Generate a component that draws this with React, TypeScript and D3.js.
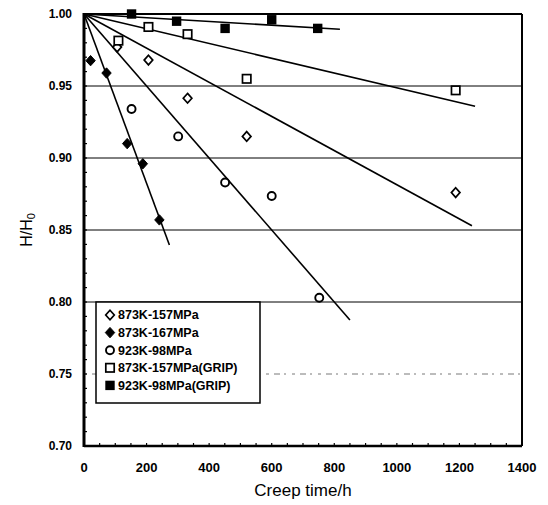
import React from "react";
import * as d3 from "d3";

// Creep time (h) and H/H0 readings for each test series
const diamondOpenT = [106, 206, 331, 520, 1188];
const diamondOpenH = [0.977, 0.968, 0.9415, 0.915, 0.876];

const diamondFilledT = [21, 72, 138, 188, 241];
const diamondFilledH = [0.9676, 0.959, 0.91, 0.896, 0.857];

const circleOpenT = [152, 301, 451, 600, 752];
const circleOpenH = [0.934, 0.915, 0.883, 0.8736, 0.803];

const squareOpenT = [110, 206, 331, 520, 1188];
const squareOpenH = [0.9815, 0.991, 0.986, 0.955, 0.947];

const squareFilledT = [152, 296, 451, 600, 747];
const squareFilledH = [1.0, 0.995, 0.99, 0.996, 0.99];

// Fitted straight lines, each starting at (0, 1.00)
const fitEndT = [1240, 273, 850, 1250, 818];
const fitEndH = [0.853, 0.8396, 0.7875, 0.936, 0.9894];

const legendLabels = [
  "873K-157MPa",
  "873K-167MPa",
  "923K-98MPa",
  "873K-157MPa(GRIP)",
  "923K-98MPa(GRIP)",
];
const markerKinds = ["diamondOpen", "diamondFilled", "circleOpen", "squareOpen", "squareFilled"];

const xTicks = [0, 200, 400, 600, 800, 1000, 1200, 1400];
const yTicks = [0.7, 0.75, 0.8, 0.85, 0.9, 0.95, 1.0];
const solidGrid = [0.8, 0.85, 0.9, 0.95];

const W = 548;
const H = 505;
const left = 84;
const right = 522;
const top = 14;
const bottom = 446;

const x = d3.scaleLinear().domain([0, 1400]).range([left, right]);
const y = d3.scaleLinear().domain([0.7, 1.0]).range([bottom, top]);

const font = "Arial, 'Liberation Sans', Helvetica, sans-serif";

function Marker({ kind, cx, cy }: { kind: string; cx: number; cy: number }) {
  switch (kind) {
    case "diamondOpen":
      return (
        <path
          d={`M${cx},${cy - 4.8}L${cx + 4.3},${cy}L${cx},${cy + 4.8}L${cx - 4.3},${cy}Z`}
          fill="#fff"
          stroke="#000"
          strokeWidth={1.7}
        />
      );
    case "diamondFilled":
      return (
        <path
          d={`M${cx},${cy - 5.2}L${cx + 4.7},${cy}L${cx},${cy + 5.2}L${cx - 4.7},${cy}Z`}
          fill="#000"
          stroke="#000"
          strokeWidth={1}
        />
      );
    case "circleOpen":
      return <circle cx={cx} cy={cy} r={4} fill="#fff" stroke="#000" strokeWidth={1.9} />;
    case "squareOpen":
      return (
        <rect x={cx - 4.2} y={cy - 4.2} width={8.4} height={8.4} fill="#fff" stroke="#000" strokeWidth={1.7} />
      );
    default:
      return <rect x={cx - 4.7} y={cy - 4.7} width={9.4} height={9.4} fill="#000" />;
  }
}

export default function App() {
  const series = [
    { kind: "diamondOpen", t: diamondOpenT, h: diamondOpenH },
    { kind: "diamondFilled", t: diamondFilledT, h: diamondFilledH },
    { kind: "circleOpen", t: circleOpenT, h: circleOpenH },
    { kind: "squareOpen", t: squareOpenT, h: squareOpenH },
    { kind: "squareFilled", t: squareFilledT, h: squareFilledH },
  ];

  const lineGen = d3
    .line<[number, number]>()
    .x((d) => x(d[0]))
    .y((d) => y(d[1]));

  const minorX = d3.range(0, 1401, 50);
  const minorY = d3.range(70, 101, 1).map((v) => v / 100);

  const legX = 96;
  const legY = 302;
  const legW = 164;
  const legH = 101;
  const rowH = 17.6;

  return (
    <svg width={W} height={H} style={{ position: "absolute", left: 0, top: 0, background: "#fff" }}>
      <rect width={W} height={H} fill="#fff" />

      {/* horizontal grid */}
      {solidGrid.map((v) => (
        <line key={v} x1={left} x2={right} y1={y(v)} y2={y(v)} stroke="#000" strokeWidth={1} />
      ))}
      <line
        x1={left}
        x2={right}
        y1={y(0.75)}
        y2={y(0.75)}
        stroke="#555"
        strokeWidth={0.8}
        strokeDasharray="3 5 6 4 2 6"
      />

      {/* fitted lines */}
      {fitEndT.map((t, i) => (
        <path
          key={i}
          d={lineGen([
            [0, 1.0],
            [t, fitEndH[i]],
          ]) as string}
          fill="none"
          stroke="#000"
          strokeWidth={1.6}
        />
      ))}

      {/* data markers */}
      {series.map((s) =>
        s.t.map((t, i) => <Marker key={s.kind + i} kind={s.kind} cx={x(t)} cy={y(s.h[i])} />)
      )}

      {/* minor ticks */}
      {minorX.map((v) => (
        <line key={"mx" + v} x1={x(v)} x2={x(v)} y1={bottom} y2={bottom - 3} stroke="#000" strokeWidth={1.2} />
      ))}
      {minorY.map((v) => (
        <line key={"my" + v} x1={left} x2={left + 3} y1={y(v)} y2={y(v)} stroke="#000" strokeWidth={1.2} />
      ))}

      {/* frame */}
      <line x1={left} x2={right} y1={top} y2={top} stroke="#000" strokeWidth={2} />
      <line x1={right} x2={right} y1={top} y2={bottom} stroke="#000" strokeWidth={2} />
      <line x1={left} x2={right} y1={bottom} y2={bottom} stroke="#000" strokeWidth={2.5} />
      <line x1={left} x2={left} y1={top - 1} y2={bottom + 1} stroke="#000" strokeWidth={3} />

      {/* tick labels */}
      {yTicks.map((v) => (
        <text
          key={"yt" + v}
          x={72}
          y={y(v)}
          dy="0.35em"
          textAnchor="end"
          fontFamily={font}
          fontSize={12}
          fontWeight="bold"
        >
          {v.toFixed(2)}
        </text>
      ))}
      {xTicks.map((v) => (
        <text
          key={"xt" + v}
          x={x(v)}
          y={472}
          textAnchor="middle"
          fontFamily={font}
          fontSize={13}
          fontWeight="bold"
        >
          {v}
        </text>
      ))}

      {/* axis titles */}
      <text x={303} y={496} textAnchor="middle" fontFamily={font} fontSize={17}>
        Creep time/h
      </text>
      <text
        transform={`translate(32,${(top + bottom) / 2}) rotate(-90)`}
        textAnchor="middle"
        fontFamily={font}
        fontSize={16}
      >
        H/H<tspan fontSize={11} dy={3}>0</tspan>
      </text>

      {/* legend */}
      <rect x={legX} y={legY} width={legW} height={legH} fill="#fff" stroke="#000" strokeWidth={1.5} />
      {legendLabels.map((lab, i) => {
        const cy = legY + 13 + i * rowH;
        return (
          <g key={lab}>
            <Marker kind={markerKinds[i]} cx={110} cy={cy} />
            <text x={118} y={cy} dy="0.35em" fontFamily={font} fontSize={12.5} fontWeight="bold">
              {lab}
            </text>
          </g>
        );
      })}
    </svg>
  );
}
